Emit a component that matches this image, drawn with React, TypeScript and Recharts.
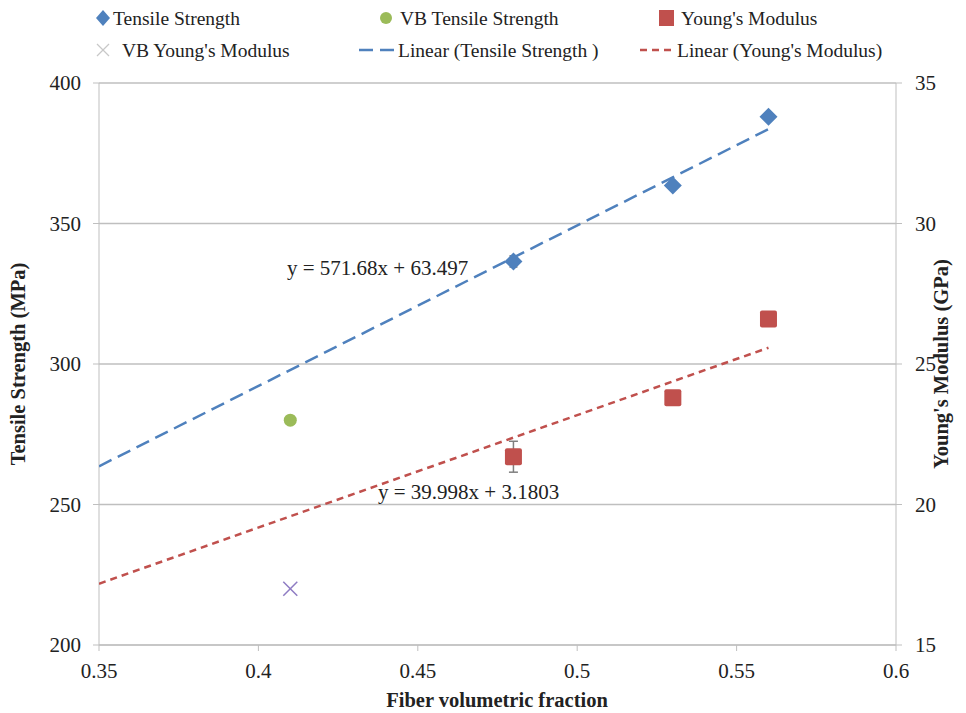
import React from 'react';
import { ScatterChart, Scatter, XAxis, YAxis, CartesianGrid, ErrorBar } from 'recharts';

// fiber volume fraction of the measured laminates
const fractions = [0.48, 0.53, 0.56];
const tensileStrength = [336.5, 363.5, 388];
const tensileErr = [2, 0, 0];
const youngsModulus = [21.7, 23.8, 26.6];
const youngsErr = [0.55, 0, 0];

// vacuum bagged sample
const vbFraction = [0.41];
const vbTensile = [280];
const vbYoungs = [17];

// linear trend end points
const trendX = [0.35, 0.56];
const tensileTrend = [263.6, 383.6];
const youngsTrend = [17.18, 25.58];

const xTicks = [0.35, 0.4, 0.45, 0.5, 0.55, 0.6];
const leftTicks = [200, 250, 300, 350, 400];
const rightTicks = [15, 20, 25, 30, 35];

const FONT = '"Liberation Serif", "Times New Roman", serif';
const GRID = '#bfbfbf';
const BLUE = '#4F81BD';
const GREEN = '#9BBB59';
const RED = '#C0504D';
const PURPLE = '#8E7CC3';

const tensileData = fractions.map((x, i) => ({ x, y: tensileStrength[i], err: tensileErr[i] }));
const youngsData = fractions.map((x, i) => ({ x, y: youngsModulus[i], err: youngsErr[i] }));
const vbTensileData = vbFraction.map((x, i) => ({ x, y: vbTensile[i] }));
const vbYoungsData = vbFraction.map((x, i) => ({ x, y: vbYoungs[i] }));
const tensileTrendData = trendX.map((x, i) => ({ x, y: tensileTrend[i] }));
const youngsTrendData = trendX.map((x, i) => ({ x, y: youngsTrend[i] }));

const Diamond = ({ cx, cy }: any) => (
  <polygon points={`${cx},${cy - 9} ${cx + 9},${cy} ${cx},${cy + 9} ${cx - 9},${cy}`} fill={BLUE} />
);
const Square = ({ cx, cy }: any) => (
  <rect x={cx - 8.5} y={cy - 8.5} width={17} height={17} rx={2} fill={RED} />
);
const Dot = ({ cx, cy }: any) => <circle cx={cx} cy={cy} r={6.5} fill={GREEN} />;
const Cross = ({ cx, cy }: any) => (
  <g stroke={PURPLE} strokeWidth={1.5}>
    <line x1={cx - 7} y1={cy - 7} x2={cx + 7} y2={cy + 7} />
    <line x1={cx - 7} y1={cy + 7} x2={cx + 7} y2={cy - 7} />
  </g>
);
const NoShape = () => <g />;

const tickStyle = { fill: '#222', fontSize: 21, fontFamily: FONT };

const Overlay = () => (
  <svg width={966} height={713} style={{ position: 'absolute', left: 0, top: 0, pointerEvents: 'none' }}>
    <g fontFamily={FONT} fontSize={19.5} fill="#222">
      {/* legend row 1 */}
      <polygon points="103,10 110,18 103,26 96,18" fill={BLUE} />
      <text x={113} y={25}>Tensile Strength</text>
      <circle cx={386} cy={18} r={6} fill={GREEN} />
      <text x={400} y={25}>VB Tensile Strength</text>
      <rect x={659} y={10} width={15} height={16} fill={RED} />
      <text x={681} y={25}>Young's Modulus</text>
      {/* legend row 2 */}
      <g stroke="#c8c8c8" strokeWidth={1.3}>
        <line x1={97} y1={44} x2={109} y2={56} />
        <line x1={97} y1={56} x2={109} y2={44} />
      </g>
      <text x={122} y={57}>VB Young's Modulus</text>
      <line x1={359} y1={50} x2={394} y2={50} stroke={BLUE} strokeWidth={2.5} strokeDasharray="14 7" />
      <text x={398} y={57}>Linear (Tensile Strength )</text>
      <line x1={640} y1={50} x2={675} y2={50} stroke={RED} strokeWidth={2.5} strokeDasharray="7 5" />
      <text x={677} y={57}>Linear (Young's Modulus)</text>
    </g>
    <g fontFamily={FONT} fontSize={21} fill="#222">
      <text x={287} y={275}>y = 571.68x + 63.497</text>
      <text x={378} y={499}>y = 39.998x + 3.1803</text>
    </g>
    <g fontFamily={FONT} fontSize={20.5} fontWeight="bold" fill="#222" textAnchor="middle">
      <text x={497} y={707}>Fiber volumetric fraction</text>
      <text transform="translate(25,364) rotate(-90)">Tensile Strength (MPa)</text>
      <text transform="translate(948,364) rotate(-90)">Young's Modulus (GPa)</text>
    </g>
  </svg>
);

export default function App() {
  return (
    <div style={{ position: 'absolute', left: 0, top: 0, width: 966, height: 713, background: '#fff' }}>
      <ScatterChart width={966} height={713} margin={{ top: 83, right: 0, bottom: 0, left: 0 }}>
        <CartesianGrid yAxisId="left" horizontal vertical={false} stroke={GRID} strokeWidth={1.3} />
        <XAxis
          type="number"
          dataKey="x"
          domain={[0.35, 0.6]}
          ticks={xTicks}
          height={68}
          stroke={GRID}
          tickSize={6}
          tickMargin={12}
          tick={tickStyle}
          tickFormatter={(v) => String(v)}
          allowDataOverflow
        />
        <YAxis
          yAxisId="left"
          type="number"
          dataKey="y"
          domain={[200, 400]}
          ticks={leftTicks}
          width={99}
          stroke={GRID}
          tickSize={6}
          tickMargin={12}
          tick={tickStyle}
        />
        <YAxis
          yAxisId="right"
          orientation="right"
          type="number"
          dataKey="y"
          domain={[15, 35]}
          ticks={rightTicks}
          width={70}
          stroke={GRID}
          tickSize={6}
          tickMargin={13}
          tick={{ ...tickStyle, textAnchor: 'start' }}
        />
        <Scatter
          yAxisId="left"
          data={tensileTrendData}
          line={{ stroke: BLUE, strokeWidth: 2.5, strokeDasharray: '14 7' }}
          shape={NoShape}
          isAnimationActive={false}
        />
        <Scatter
          yAxisId="right"
          data={youngsTrendData}
          line={{ stroke: RED, strokeWidth: 2.5, strokeDasharray: '7 5' }}
          shape={NoShape}
          isAnimationActive={false}
        />
        <Scatter yAxisId="left" data={tensileData} shape={Diamond} isAnimationActive={false}>
          <ErrorBar dataKey="err" direction="y" width={4} stroke="#7f7f7f" strokeWidth={1.5} />
        </Scatter>
        <Scatter yAxisId="left" data={vbTensileData} shape={Dot} isAnimationActive={false} />
        <Scatter yAxisId="right" data={youngsData} shape={Square} isAnimationActive={false}>
          <ErrorBar dataKey="err" direction="y" width={4.5} stroke="#7f7f7f" strokeWidth={1.5} />
        </Scatter>
        <Scatter yAxisId="right" data={vbYoungsData} shape={Cross} isAnimationActive={false} />
      </ScatterChart>
      <Overlay />
    </div>
  );
}
